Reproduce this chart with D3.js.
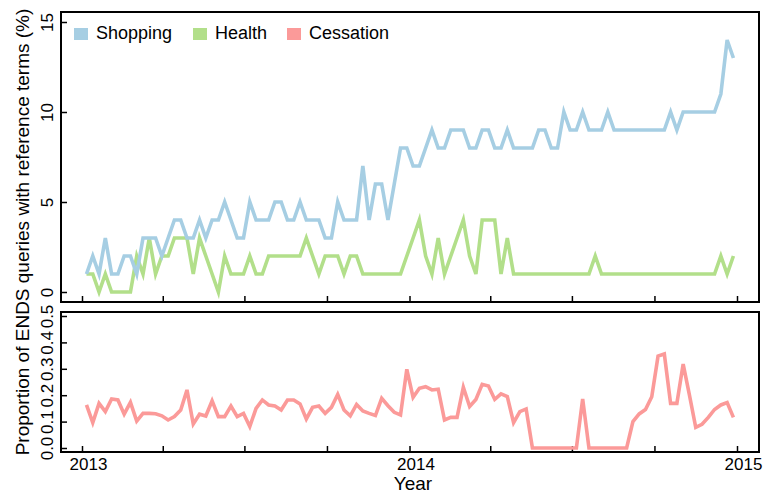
<!DOCTYPE html>
<html>
<head>
<meta charset="utf-8">
<script src="https://cdn.jsdelivr.net/npm/d3@7"></script>
<style>
  body { margin: 0; background: #fff; }
  svg { font-family: "Liberation Sans", Arial, sans-serif; }
  .tick line { stroke: #000; stroke-width: 1.5; }
  .tick text { fill: #000; }
</style>
</head>
<body>
<div id="graph"></div>
<script>
// weekly series, first week starting 2013-01-06
var firstWeek = new Date(2013, 0, 6);

var seriesNames = ["Shopping", "Health", "Cessation"];
var seriesColors = ["#a6cee3", "#b2df8a", "#fb9a99"];

var shopping = [1,2,1,3,1,1,2,2,1,3, 3,3,2,3,4,4,3,3,4,3,
    4,4,5,4,3,3,5,4,4,4, 5,5,4,4,5,4,4,4,3,3,
    5,4,4,4,7,4,6,6,4,6, 8,8,7,7,8,9,8,8,9,9,
    9,8,8,9,9,8,8,9,8,8, 8,8,9,9,8,8,10,9,9,10,
    9,9,9,10,9,9,9,9,9,9, 9,9,9,10,9,10,10,10,10,10,
    10,11,14,13];

var health = [1,1,0,1,0,0,0,0,2,1, 3,1,2,2,3,3,3,1,3,2,
    1,0,2,1,1,1,2,1,1,2, 2,2,2,2,2,3,2,1,2,2,
    2,1,2,2,1,1,1,1,1,1, 1,2,3,4,2,1,3,1,2,3,
    4,2,1,4,4,4,1,3,1,1, 1,1,1,1,1,1,1,1,1,1,
    1,2,1,1,1,1,1,1,1,1, 1,1,1,1,1,1,1,1,1,1,
    1,2,1,2];

var cessation = [.163,.096,.169,.138,.186,.182,.128,.173,.102,.131,
    .131,.130,.122,.106,.119,.144,.220,.091,.128,.121,
    .179,.119,.119,.159,.119,.131,.081,.150,.182,.163,
    .159,.144,.182,.182,.167,.110,.154,.159,.131,.154,
    .203,.144,.122,.165,.140,.131,.123,.188,.160,.135,
    .125,.298,.192,.226,.232,.220,.223,.106,.116,.116,
    .230,.157,.184,.241,.235,.184,.205,.195,.096,.138,
    .148,0,0,0,0,0,0,0,0,.186,
    0,0,0,0,0,0,0,.100,.129,.146,
    .194,.348,.356,.169,.169,.318,.200,.078,.090,.116,
    .146,.163,.172,.116];

var topTicks = [0, 5, 10, 15];
var bottomTicks = [0, 0.1, 0.2, 0.3, 0.4, 0.5];
var xTicks = [new Date(2013,0,1), new Date(2013,3,1), new Date(2013,6,1), new Date(2013,9,1),
    new Date(2014,0,1), new Date(2014,3,1), new Date(2014,6,1), new Date(2014,9,1), new Date(2015,0,1)];

var dates = shopping.map(function(d, i) { return d3.timeWeek.offset(firstWeek, i); });

var width = 765, height = 497;
var frameLeft = 61, frameRight = 759;
var topPanel = {top: 12, bottom: 302};
var bottomPanel = {top: 312, bottom: 452};

var svg = d3.select("#graph").append("svg")
    .attr("width", width)
    .attr("height", height);

var x = d3.scaleTime()
    .domain([new Date(2013,0,1), new Date(2015,0,1)])
    .range([82, 737]);

// top panel: counts in percent
var yTop = d3.scaleLinear().domain([0, 15]).range([292, 22]);
// bottom panel: cessation proportion
var yBottom = d3.scaleLinear().domain([0, 0.5]).range([448, 316]);

function drawYAxis(scale, ticks, fmt) {
    var g = svg.append("g")
        .attr("transform", "translate(" + frameLeft + ",0)")
        .style("font-size", "17px")
        .call(d3.axisLeft(scale).tickValues(ticks).tickFormat(fmt).tickSizeInner(-6).tickSizeOuter(0));
    g.select(".domain").remove();
    g.selectAll(".tick text")
        .attr("transform", "rotate(-90)")
        .attr("x", 0)
        .attr("y", -8)
        .attr("dy", 0)
        .style("text-anchor", "middle");
}

function drawXAxis(yPos, labels) {
    var g = svg.append("g")
        .attr("transform", "translate(0," + yPos + ")")
        .style("font-size", "17px")
        .call(d3.axisBottom(x).tickValues(xTicks).tickSizeInner(-6).tickSizeOuter(0)
            .tickFormat(function(d) { return labels && d.getMonth() == 0 ? d.getFullYear() : ""; }));
    g.select(".domain").remove();
    g.selectAll(".tick text")
        .attr("y", 18)
        .attr("dy", 0)
        .attr("dx", 6);
}

drawYAxis(yTop, topTicks, d3.format("d"));
drawYAxis(yBottom, bottomTicks, d3.format(".1f"));
drawXAxis(topPanel.bottom, false);
drawXAxis(bottomPanel.bottom, true);

var line = function(yScale) {
    return d3.line()
        .x(function(d, i) { return x(dates[i]); })
        .y(function(d) { return yScale(d); });
};

svg.append("path").datum(health)
    .attr("fill", "none").attr("stroke", seriesColors[1]).attr("stroke-width", 3.6)
    .attr("d", line(yTop));
svg.append("path").datum(shopping)
    .attr("fill", "none").attr("stroke", seriesColors[0]).attr("stroke-width", 3.6)
    .attr("d", line(yTop));
svg.append("path").datum(cessation)
    .attr("fill", "none").attr("stroke", seriesColors[2]).attr("stroke-width", 3.6)
    .attr("d", line(yBottom));

// frames round the two panels
[topPanel, bottomPanel].forEach(function(p) {
    svg.append("rect")
        .attr("x", frameLeft)
        .attr("y", p.top)
        .attr("width", frameRight - frameLeft)
        .attr("height", p.bottom - p.top)
        .attr("fill", "none")
        .attr("stroke", "#000")
        .attr("stroke-width", 2);
});

// legend
var legendX = [74, 193, 287];
var legend = svg.append("g").style("font-size", "18px");
seriesNames.forEach(function(name, i) {
    legend.append("rect")
        .attr("x", legendX[i]).attr("y", 28)
        .attr("width", 14).attr("height", 12)
        .attr("fill", seriesColors[i]);
    legend.append("text")
        .attr("x", legendX[i] + 22).attr("y", 39)
        .text(name);
});

svg.append("text")
    .attr("transform", "translate(29,232) rotate(-90)")
    .style("text-anchor", "middle")
    .style("font-size", "19px")
    .text("Proportion of ENDS queries with reference terms (%)");

svg.append("text")
    .attr("x", 413)
    .attr("y", 490)
    .style("text-anchor", "middle")
    .style("font-size", "19px")
    .text("Year");
</script>
</body>
</html>
